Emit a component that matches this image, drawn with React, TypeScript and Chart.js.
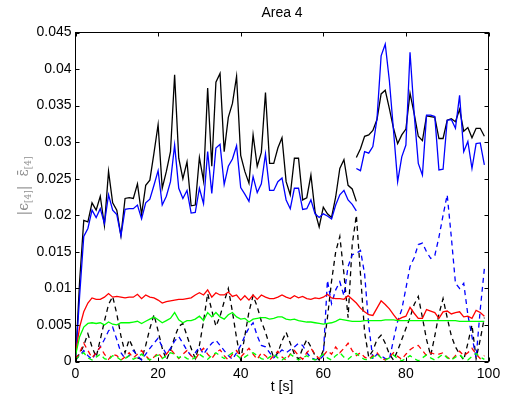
import React, { useEffect, useRef } from 'react';
import { Chart, registerables } from 'chart.js';

Chart.register(...registerables);

// ---- text ----
const TITLE = 'Area 4';
const X_LABEL = 't [s]';

// ---- axes ----
const X_TICKS = [0, 20, 40, 60, 80, 100];
const Y_TICKS = [0, 0.005, 0.01, 0.015, 0.02, 0.025, 0.03, 0.035, 0.04, 0.045];

// ---- time sampling (1 s steps) ----
const T_STEP = 1;
const SEG1_START = 0; // first segment of the solid black / blue curves
const SEG2_START = 68; // second segment after the re-initialisation

// ---- solid black, segment 1 (t = 0..68) ----
const BLACK_SOLID_1 = [
  0.0, 0.011, 0.0193, 0.0191, 0.0217, 0.0207, 0.0226, 0.0186, 0.026, 0.0217,
  0.0207, 0.0172, 0.0223, 0.0224, 0.0223, 0.0243, 0.0201, 0.0241, 0.0248, 0.0285,
  0.0324, 0.0237, 0.026, 0.0287, 0.0392, 0.0278, 0.025, 0.0273, 0.0213, 0.0214,
  0.0279, 0.0247, 0.0374, 0.0267, 0.0382, 0.0394, 0.0287, 0.0334, 0.0353, 0.039,
  0.0282, 0.026, 0.0244, 0.031, 0.0267, 0.0286, 0.0368, 0.0271, 0.0271, 0.0292,
  0.0306, 0.0246, 0.0228, 0.0278, 0.0278, 0.0221, 0.0224, 0.0255, 0.0205, 0.0184,
  0.0211, 0.0202, 0.0197, 0.0225, 0.0264, 0.0276, 0.0241, 0.0236, 0.0219,
];
// ---- solid black, segment 2 (t = 68..99) ----
const BLACK_SOLID_2 = [
  0.0279, 0.0291, 0.0308, 0.031, 0.0316, 0.0331, 0.0366, 0.0371, 0.0346, 0.0319,
  0.0298, 0.031, 0.0318, 0.0367, 0.0339, 0.0308, 0.0302, 0.0336, 0.0335, 0.0334,
  0.0305, 0.0305, 0.033, 0.0332, 0.0328, 0.0345, 0.0315, 0.032, 0.0306, 0.0319,
  0.0319, 0.0308,
];
// ---- solid blue, segment 1 (t = 0..68) ----
const BLUE_SOLID_1 = [
  0.0, 0.009, 0.0171, 0.0182, 0.0207, 0.0197, 0.0209, 0.0189, 0.0228, 0.0207,
  0.0201, 0.0172, 0.0208, 0.0209, 0.0209, 0.0214, 0.0195, 0.0217, 0.0222, 0.0241,
  0.0261, 0.0214, 0.0226, 0.0246, 0.0296, 0.0237, 0.0223, 0.0234, 0.0203, 0.0204,
  0.0237, 0.0216, 0.0287, 0.023, 0.0292, 0.0297, 0.0242, 0.0267, 0.0277, 0.0295,
  0.0238, 0.0229, 0.0219, 0.0253, 0.0231, 0.0243, 0.0284, 0.0234, 0.0234, 0.0246,
  0.0251, 0.0221, 0.0209, 0.0237, 0.0237, 0.0208, 0.0209, 0.0221, 0.0202, 0.0197,
  0.0202, 0.0199, 0.0195, 0.0214, 0.0228, 0.0234, 0.0221, 0.0215, 0.0206,
];
// ---- solid blue, segment 2 (t = 68..99) ----
const BLUE_SOLID_2 = [
  0.0264, 0.0261, 0.0287, 0.0285, 0.0294, 0.0332, 0.0418, 0.0434, 0.0384, 0.0316,
  0.0246, 0.028, 0.0296, 0.0423, 0.0339, 0.0271, 0.0255, 0.0337, 0.0337, 0.0335,
  0.0262, 0.0263, 0.033, 0.0331, 0.0319, 0.0364, 0.0287, 0.0301, 0.0264, 0.0298,
  0.0299, 0.0269,
];
// ---- solid red (t = 0..99) ----
const RED_SOLID = [
  0.001, 0.0047, 0.0068, 0.008, 0.0087, 0.0085, 0.0085, 0.0088, 0.0093, 0.0088,
  0.0089, 0.0088, 0.0087, 0.0088, 0.0088, 0.0092, 0.0086, 0.0091, 0.0088, 0.0087,
  0.0084, 0.008, 0.0082, 0.0083, 0.0084, 0.0085, 0.0085, 0.0086, 0.0087, 0.0091,
  0.0094, 0.0091, 0.0098, 0.0088, 0.0094, 0.0091, 0.0091, 0.0095, 0.0089, 0.0091,
  0.0084, 0.009, 0.0084, 0.0091, 0.0085, 0.0091, 0.0088, 0.0086, 0.0086, 0.0088,
  0.0091, 0.0088, 0.0086, 0.009, 0.0087, 0.0089, 0.0086, 0.0085, 0.0087, 0.0086,
  0.0088, 0.0092, 0.0087, 0.0086, 0.0086, 0.0085, 0.009, 0.0085, 0.008, 0.0073,
  0.0068, 0.0064, 0.0063, 0.0073, 0.0083, 0.0078, 0.0072, 0.0064, 0.0057, 0.006,
  0.0062, 0.0074, 0.0066, 0.0059, 0.0059, 0.0071, 0.0069, 0.0067, 0.0059, 0.0068,
  0.0069, 0.0065, 0.0067, 0.0068, 0.0061, 0.0062, 0.0059, 0.007, 0.0067, 0.0062,
];
// ---- solid green (t = 0..99) ----
const GREEN_SOLID = [
  0.0008, 0.0034, 0.0047, 0.0052, 0.0053, 0.0052, 0.0053, 0.005, 0.0054, 0.0051,
  0.005, 0.0053, 0.0053, 0.0053, 0.0054, 0.0055, 0.0052, 0.0055, 0.0058, 0.0061,
  0.0057, 0.0053, 0.0056, 0.0059, 0.0067, 0.0057, 0.0053, 0.0056, 0.0056, 0.0058,
  0.0062, 0.0056, 0.0067, 0.0061, 0.0067, 0.0061, 0.0058, 0.0064, 0.0067, 0.0061,
  0.0058, 0.0059, 0.0054, 0.0058, 0.0059, 0.006, 0.006, 0.0058, 0.0059, 0.0061,
  0.0061, 0.0058, 0.0057, 0.0058, 0.0056, 0.0055, 0.0054, 0.0054, 0.0053, 0.0052,
  0.0051, 0.0052, 0.0053, 0.0055, 0.0058, 0.0057, 0.0056, 0.0055, 0.0055, 0.0055,
  0.0056, 0.0056, 0.0056, 0.0056, 0.0056, 0.0057, 0.0057, 0.0057, 0.0056, 0.0056,
  0.0056, 0.0056, 0.0056, 0.0056, 0.0056, 0.0056, 0.0056, 0.0056, 0.0056, 0.0056,
  0.0056, 0.0056, 0.0056, 0.0055, 0.0055, 0.0055, 0.0055, 0.0055, 0.0055, 0.0055,
];
// ---- dashed black (t = 0..99) ----
const BLACK_DASHED = [
  0.0005, 0.001, 0.0022, 0.0038, 0.002, 0.0006, 0.003, 0.0055, 0.0078, 0.0089,
  0.0065, 0.0035, 0.0012, 0.003, 0.0018, 0.0005, 0.0003, 0.0022, 0.0045, 0.0064,
  0.0042, 0.0018, 0.0002, 0.0015, 0.0033, 0.0048, 0.0052, 0.0035, 0.0018, 0.0004,
  0.0022, 0.0055, 0.0093, 0.007, 0.0048, 0.0062, 0.0082, 0.01, 0.0068, 0.0032,
  0.0002, 0.0035, 0.0068, 0.009, 0.0075, 0.0055, 0.004, 0.0022, 0.0005, 0.0012,
  0.0028, 0.004, 0.0025, 0.001, 0.0003, 0.0018, 0.003, 0.002, 0.0008, 0.0002,
  0.0015, 0.006, 0.011, 0.015, 0.0171, 0.012, 0.006, 0.016, 0.02, 0.012,
  0.004, 0.0006, 0.0015, 0.003, 0.0036, 0.0025, 0.001, 0.0002, 0.0015, 0.003,
  0.0045, 0.006, 0.0078, 0.0089, 0.006, 0.003, 0.0008, 0.0035, 0.0065, 0.0086,
  0.006, 0.0035, 0.002, 0.001, 0.0002, 0.0025, 0.005, 0.0004, 0.003, 0.006,
];
// ---- dashed blue (t = 0..99) ----
const BLUE_DASHED = [
  0.0002, 0.0008, 0.0015, 0.0008, 0.0003, 0.0012, 0.002, 0.003, 0.0042, 0.0047,
  0.003, 0.0012, 0.0004, 0.0008, 0.0015, 0.0008, 0.0002, 0.001, 0.0018, 0.0025,
  0.0032, 0.002, 0.001, 0.0018, 0.0028, 0.0034, 0.0025, 0.0015, 0.0008, 0.0012,
  0.002, 0.001, 0.0018, 0.0025, 0.0029, 0.0022, 0.0015, 0.0008, 0.0003, 0.0012,
  0.0022, 0.0035, 0.0046, 0.0053, 0.0035, 0.0022, 0.002, 0.0012, 0.0005, 0.001,
  0.0016, 0.0012, 0.0016, 0.002, 0.0025, 0.0022, 0.0012, 0.0005, 0.0003, 0.0002,
  0.0008, 0.0111, 0.0079, 0.0098, 0.0109, 0.009, 0.013, 0.0146, 0.0148, 0.0152,
  0.012, 0.005, 0.0003, 0.001, 0.0008, 0.0004, 0.0003, 0.003, 0.0055, 0.0071,
  0.01, 0.013, 0.0142, 0.016, 0.0162, 0.015, 0.0141, 0.0145, 0.017, 0.02,
  0.0228, 0.017, 0.0107, 0.01, 0.0107, 0.0064, 0.0034, 0.0005, 0.0071, 0.0127,
];
// ---- dashed red (t = 0..99) ----
const RED_DASHED = [
  0.0003, 0.0012, 0.0025, 0.0015, 0.0005, 0.0012, 0.002, 0.001, 0.0003, 0.001,
  0.0008, 0.0002, 0.0006, 0.0012, 0.0005, 0.001, 0.0015, 0.0008, 0.0002, 0.0006,
  0.0012, 0.0005, 0.001, 0.0017, 0.001, 0.0004, 0.001, 0.0015, 0.0008, 0.0003,
  0.0012, 0.0018, 0.001, 0.0004, 0.0012, 0.0016, 0.0008, 0.0002, 0.001, 0.0015,
  0.0006, 0.0012, 0.0018, 0.001, 0.0003, 0.0012, 0.0008, 0.0002, 0.0008, 0.0014,
  0.0006, 0.0002, 0.001, 0.0015, 0.0008, 0.0003, 0.0012, 0.0018, 0.001, 0.0004,
  0.0008, 0.0015, 0.001, 0.002, 0.0012, 0.0018, 0.0025, 0.0015, 0.0008, 0.0012,
  0.0006, 0.0003, 0.0008, 0.0012, 0.0005, 0.0002, 0.0006, 0.0012, 0.0007, 0.0003,
  0.001, 0.0016, 0.002, 0.0022, 0.0015, 0.0008, 0.0012, 0.001, 0.001, 0.0012,
  0.0006, 0.0002, 0.0008, 0.0014, 0.0008, 0.0012, 0.0018, 0.001, 0.0004, 0.0008,
];
// ---- dashed green (t = 0..99) ----
const GREEN_DASHED = [
  0.0002, 0.0008, 0.0012, 0.0005, 0.0002, 0.0006, 0.001, 0.0004, 0.0002, 0.0008,
  0.0006, 0.0002, 0.0004, 0.0008, 0.0003, 0.0006, 0.001, 0.0005, 0.0002, 0.0006,
  0.0009, 0.0004, 0.0008, 0.0012, 0.001, 0.0005, 0.0008, 0.0004, 0.0002, 0.0006,
  0.001, 0.0006, 0.0003, 0.0008, 0.0012, 0.0008, 0.0004, 0.0008, 0.0012, 0.0009,
  0.0004, 0.0006, 0.001, 0.0012, 0.0008, 0.0004, 0.0002, 0.0006, 0.001, 0.0005,
  0.0002, 0.0006, 0.001, 0.0006, 0.0002, 0.0005, 0.0008, 0.0004, 0.0002, 0.0006,
  0.001, 0.0005, 0.0002, 0.0008, 0.0012, 0.0006, 0.0003, 0.0008, 0.0011, 0.0006,
  0.0003, 0.0002, 0.0006, 0.001, 0.0005, 0.0002, 0.0005, 0.0009, 0.0004, 0.0001,
  0.0004, 0.0008, 0.0004, 0.0001, 0.0005, 0.0009, 0.0005, 0.0002, 0.0006, 0.001,
  0.0005, 0.0002, 0.0006, 0.0009, 0.0004, 0.0002, 0.0007, 0.0011, 0.0006, 0.0003,
];

const toPoints = (vals: number[], start: number) =>
  vals.map((v, i) => ({ x: start + i * T_STEP, y: v }));

const fmtY = (v: number) => String(Number(v.toFixed(3)));

const framePlugin = {
  id: 'matlabFrame',
  afterDraw(chart: any) {
    const { ctx, chartArea: a } = chart;
    const xs = chart.scales.x;
    const ys = chart.scales.y;
    ctx.save();
    ctx.strokeStyle = '#000';
    ctx.lineWidth = 1;
    ctx.setLineDash([]);
    ctx.strokeRect(a.left, a.top, a.right - a.left, a.bottom - a.top);
    const tl = 4;
    ctx.beginPath();
    X_TICKS.forEach((v) => {
      const px = Math.round(xs.getPixelForValue(v)) + 0.5;
      ctx.moveTo(px, a.bottom);
      ctx.lineTo(px, a.bottom - tl);
      ctx.moveTo(px, a.top);
      ctx.lineTo(px, a.top + tl);
    });
    Y_TICKS.forEach((v) => {
      const py = Math.round(ys.getPixelForValue(v)) + 0.5;
      ctx.moveTo(a.left, py);
      ctx.lineTo(a.left + tl, py);
      ctx.moveTo(a.right, py);
      ctx.lineTo(a.right - tl, py);
    });
    ctx.stroke();

    // title and x label
    ctx.fillStyle = '#000';
    ctx.font = '14px "Liberation Sans", Arial, sans-serif';
    ctx.textAlign = 'center';
    ctx.textBaseline = 'alphabetic';
    const cx = (a.left + a.right) / 2;
    ctx.fillText(TITLE, cx, 17);
    ctx.fillText(X_LABEL, cx, 391);

    // y label with subscripts, rotated
    const main = '14px "DejaVu Serif", "Liberation Serif", serif';
    const sub = '9px "DejaVu Serif", "Liberation Serif", serif';
    const parts: { t: string; f: string; dy: number }[] = [
      { t: '|', f: main, dy: 0 },
      { t: 'ϵ', f: main, dy: 0 },
      { t: '[4]', f: sub, dy: 3 },
      { t: '|', f: main, dy: 0 },
      { t: '  ', f: main, dy: 0 },
      { t: 'ε\u0304', f: main, dy: 0 },
      { t: '[4]', f: sub, dy: 3 },
    ];
    let total = 0;
    const widths = parts.map((p) => {
      ctx.font = p.f;
      const w = ctx.measureText(p.t).width;
      total += w;
      return w;
    });
    ctx.translate(28, 186);
    ctx.rotate(-Math.PI / 2);
    ctx.fillStyle = '#8c8c8c';
    ctx.textAlign = 'left';
    ctx.textBaseline = 'alphabetic';
    let x = -total / 2;
    parts.forEach((p, i) => {
      ctx.font = p.f;
      ctx.fillText(p.t, x, p.dy);
      x += widths[i];
    });
    ctx.restore();
  },
};

export default function App() {
  const ref = useRef<HTMLCanvasElement | null>(null);

  useEffect(() => {
    document.body.style.margin = '0';
    document.body.style.overflow = 'hidden';
    if (!ref.current) return;

    const solid = (data: any[], color: string) => ({
      data,
      borderColor: color,
      borderWidth: 1.3,
      pointRadius: 0,
      fill: false,
      tension: 0,
    });
    const dashed = (data: any[], color: string) => ({
      ...solid(data, color),
      borderDash: [5, 4],
    });

    const chart = new Chart(ref.current, {
      type: 'line',
      data: {
        datasets: [
          solid(toPoints(GREEN_SOLID, SEG1_START), '#00ff00'),
          solid(toPoints(RED_SOLID, SEG1_START), '#ff0000'),
          dashed(toPoints(GREEN_DASHED, SEG1_START), '#00ff00'),
          dashed(toPoints(RED_DASHED, SEG1_START), '#ff0000'),
          dashed(toPoints(BLUE_DASHED, SEG1_START), '#0000ff'),
          dashed(toPoints(BLACK_DASHED, SEG1_START), '#000000'),
          solid(toPoints(BLUE_SOLID_1, SEG1_START), '#0000ff'),
          solid(toPoints(BLUE_SOLID_2, SEG2_START), '#0000ff'),
          solid(toPoints(BLACK_SOLID_1, SEG1_START), '#000000'),
          solid(toPoints(BLACK_SOLID_2, SEG2_START), '#000000'),
        ] as any,
      },
      options: {
        animation: false,
        responsive: false,
        maintainAspectRatio: false,
        layout: { padding: { left: 0, right: 19.5, top: 32.5, bottom: 0 } },
        plugins: {
          legend: { display: false },
          tooltip: { enabled: false },
          title: { display: false },
        },
        elements: { point: { radius: 0 }, line: { tension: 0 } },
        scales: {
          x: {
            type: 'linear',
            min: 0,
            max: 100,
            grid: { display: false, drawTicks: false },
            border: { display: false },
            ticks: {
              autoSkip: false,
              maxRotation: 0,
              padding: 4,
              color: '#000',
              font: { family: '"Liberation Sans", Arial, sans-serif', size: 14 },
            },
            afterBuildTicks: (s: any) => {
              s.ticks = X_TICKS.map((v) => ({ value: v }));
            },
            afterFit: (s: any) => {
              s.height = 34.5;
            },
          },
          y: {
            type: 'linear',
            min: 0,
            max: 0.045,
            grid: { display: false, drawTicks: false },
            border: { display: false },
            ticks: {
              autoSkip: false,
              padding: 4,
              color: '#000',
              font: { family: '"Liberation Sans", Arial, sans-serif', size: 14 },
              callback: (v: any) => fmtY(Number(v)),
            },
            afterBuildTicks: (s: any) => {
              s.ticks = Y_TICKS.map((v) => ({ value: v }));
            },
            afterFit: (s: any) => {
              s.width = 75.5;
            },
          },
        },
      } as any,
      plugins: [framePlugin],
    });

    return () => chart.destroy();
  }, []);

  return <canvas ref={ref} width={508} height={396} style={{ display: 'block' }} />;
}
